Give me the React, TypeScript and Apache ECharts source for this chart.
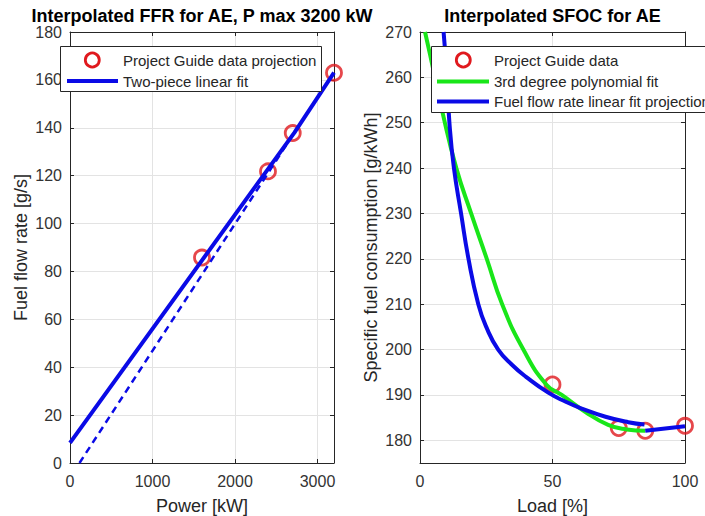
import React, { useEffect, useRef } from 'react';
import * as echarts from 'echarts';

// ---------- data ----------
const ffrTitle = 'Interpolated FFR for AE, P max 3200 kW';
const sfocTitle = 'Interpolated SFOC for AE';

const powerTicks = [0, 1000, 2000, 3000];
const loadTicks = [0, 50, 100];
const ffrTicks = [0, 20, 40, 60, 80, 100, 120, 140, 160, 180];
const sfocTicks = [180, 190, 200, 210, 220, 230, 240, 250, 260, 270];

// left: Project Guide data projection
const guidePowerKW = [1600, 2400, 2700, 3200];
const guideFfr = [85.8, 121.8, 137.8, 163];
// left: two-piece linear fit (solid)
const fitPowerKW = [0, 2720, 3200];
const fitFfr = [8.4, 138, 163];
// left: extension of second piece (dashed)
const extPowerKW = [115, 2720];
const extFfr = [0, 138];

// right: Project Guide data
const guideLoad = [50, 75, 85, 100];
const guideSfoc = [192.3, 182.7, 182.1, 183.2];
// right: 3rd degree polynomial fit
const polyLoad = [1.9, 3.8, 8.6, 13.7, 19.3, 25.2, 31, 39, 47.8, 53.5, 62.3, 71, 78, 85];
const polySfoc = [270, 265, 252, 240, 230, 220, 210, 200, 192.2, 190, 186.3, 183.4, 182.4, 182.1];
// right: fuel flow rate linear fit projection (piece 1 and piece 2)
const projLoadA = [8.9, 10.2, 11.1, 12.8, 15.5, 18.3, 22, 25, 29.5, 35, 40, 48.4, 55, 61, 70, 78.6, 84.7];
const projSfocA = [270, 260, 250, 240, 230, 220, 210, 205, 200, 196.5, 194, 190.5, 188.5, 187, 185.2, 184, 183.5];
const projLoadB = [85, 100];
const projSfocB = [182.1, 183.1];

// ---------- style ----------
const FONT = "'Liberation Sans', Arial, Helvetica, sans-serif";
const AX = '#262626';
const LABEL = '#333333';
const GRIDC = '#e3e3e3';
const RED = '#e0191e';
const BLUE = '#0a0ae6';
const GREEN = '#19e619';

const zip = (a: number[], b: number[]) => a.map((v, i) => [v, b[i]]);
const plain = (v: number) => String(v);

function mainX(gridIndex: number, min: number, max: number, name: string, ticks: number[]) {
  return {
    type: 'value', gridIndex, min, max, position: 'bottom',
    name, nameLocation: 'middle', nameGap: 34,
    nameTextStyle: { fontSize: 18, color: AX, fontFamily: FONT },
    axisLine: { show: true, onZero: false, lineStyle: { color: AX, width: 1 } },
    axisTick: { show: true, inside: true, length: 4, customValues: ticks, lineStyle: { color: AX } },
    axisLabel: { show: true, customValues: ticks, formatter: plain, fontSize: 16, color: LABEL, margin: 10, fontFamily: FONT },
    splitLine: { show: true, lineStyle: { color: GRIDC, width: 1 } },
  };
}
function mirrorX(gridIndex: number, min: number, max: number, ticks: number[]) {
  return {
    type: 'value', gridIndex, min, max, position: 'top',
    axisLine: { show: true, onZero: false, lineStyle: { color: AX, width: 1 } },
    axisTick: { show: true, inside: true, length: 4, customValues: ticks, lineStyle: { color: AX } },
    axisLabel: { show: false, customValues: ticks },
    splitLine: { show: false },
  };
}
function mainY(gridIndex: number, min: number, max: number, name: string, ticks: number[]) {
  return {
    type: 'value', gridIndex, min, max, position: 'left',
    name, nameLocation: 'middle', nameGap: 40,
    nameTextStyle: { fontSize: 18, color: AX, fontFamily: FONT },
    axisLine: { show: true, onZero: false, lineStyle: { color: AX, width: 1 } },
    axisTick: { show: true, inside: true, length: 4, customValues: ticks, lineStyle: { color: AX } },
    axisLabel: { show: true, customValues: ticks, formatter: plain, fontSize: 16, color: LABEL, margin: 8, fontFamily: FONT },
    splitLine: { show: true, lineStyle: { color: GRIDC, width: 1 } },
  };
}
function mirrorY(gridIndex: number, min: number, max: number, ticks: number[]) {
  return {
    type: 'value', gridIndex, min, max, position: 'right',
    axisLine: { show: true, onZero: false, lineStyle: { color: AX, width: 1 } },
    axisTick: { show: true, inside: true, length: 4, customValues: ticks, lineStyle: { color: AX } },
    axisLabel: { show: false, customValues: ticks },
    splitLine: { show: false },
  };
}

function txt(x: number, y: number, text: string, size: number, opts: any = {}) {
  return {
    type: 'text', x, y, z: 20,
    style: {
      text, fontSize: size, fontFamily: FONT, fill: opts.fill || AX,
      fontWeight: opts.bold ? 'bold' : 'normal',
      align: opts.align || 'left', verticalAlign: 'middle',
      textAlign: opts.align || 'left', textVerticalAlign: 'middle',
    },
  };
}

export default function App() {
  const ref = useRef<HTMLDivElement>(null);
  useEffect(() => {
    if (!ref.current) return;
    const chart = echarts.init(ref.current, undefined, { renderer: 'svg' });
    const option: any = {
      animation: false,
      backgroundColor: '#ffffff',
      grid: [
        { left: 70, top: 32, right: 371, bottom: 53, containLabel: false, outerBoundsMode: 'none' },
        { left: 420, top: 32, right: 20, bottom: 53, containLabel: false, outerBoundsMode: 'none' },
      ],
      xAxis: [
        mainX(0, 0, 3200, 'Power [kW]', powerTicks),
        mirrorX(0, 0, 3200, powerTicks),
        mainX(1, 0, 100, 'Load [%]', loadTicks),
        mirrorX(1, 0, 100, loadTicks),
      ],
      yAxis: [
        mainY(0, 0, 180, 'Fuel flow rate [g/s]', ffrTicks),
        mirrorY(0, 0, 180, ffrTicks),
        mainY(1, 175, 270, 'Specific fuel consumption [g/kWh]', sfocTicks),
        mirrorY(1, 175, 270, sfocTicks),
      ],
      series: [
        {
          type: 'scatter', name: 'Project Guide data projection', xAxisIndex: 0, yAxisIndex: 0,
          data: zip(guidePowerKW, guideFfr), symbol: 'circle', symbolSize: 15, clip: false,
          itemStyle: { color: 'rgba(0,0,0,0)', borderColor: RED, borderWidth: 2.8 }, z: 2,
        },
        {
          type: 'line', name: 'Two-piece linear fit', xAxisIndex: 0, yAxisIndex: 0,
          data: zip(fitPowerKW, fitFfr), showSymbol: false, symbol: 'none',
          lineStyle: { color: BLUE, width: 4 }, z: 3,
        },
        {
          type: 'line', name: 'extension', xAxisIndex: 0, yAxisIndex: 0,
          data: zip(extPowerKW, extFfr), showSymbol: false, symbol: 'none',
          lineStyle: { color: BLUE, width: 2.5, type: [7, 5] }, z: 3,
        },
        {
          type: 'scatter', name: 'Project Guide data', xAxisIndex: 2, yAxisIndex: 2,
          data: zip(guideLoad, guideSfoc), symbol: 'circle', symbolSize: 15, clip: false,
          itemStyle: { color: 'rgba(0,0,0,0)', borderColor: RED, borderWidth: 2.8 }, z: 2,
        },
        {
          type: 'line', name: '3rd degree polynomial fit', xAxisIndex: 2, yAxisIndex: 2,
          data: zip(polyLoad, polySfoc), showSymbol: false, symbol: 'none',
          smooth: 0.5,
          lineStyle: { color: GREEN, width: 4 }, z: 3,
        },
        {
          type: 'line', name: 'Fuel flow rate linear fit projection', xAxisIndex: 2, yAxisIndex: 2,
          data: zip(projLoadA, projSfocA), showSymbol: false, symbol: 'none',
          smooth: 0.5,
          lineStyle: { color: BLUE, width: 4 }, z: 4,
        },
        {
          type: 'line', name: 'Fuel flow rate linear fit projection (2)', xAxisIndex: 2, yAxisIndex: 2,
          data: zip(projLoadB, projSfocB), showSymbol: false, symbol: 'none',
          lineStyle: { color: BLUE, width: 4 }, z: 4,
        },
      ],
      graphic: [
        txt(202, 16, ffrTitle, 18, { bold: true, align: 'center', fill: '#000' }),
        txt(552.5, 16, sfocTitle, 18, { bold: true, align: 'center', fill: '#000' }),
        // left legend
        { type: 'rect', z: 19, shape: { x: 60.5, y: 46.5, width: 261, height: 45 }, style: { fill: '#fff', stroke: AX, lineWidth: 1 } },
        { type: 'circle', z: 20, shape: { cx: 92.3, cy: 60, r: 7 }, style: { fill: 'none', stroke: RED, lineWidth: 2.8 } },
        txt(123, 60.5, 'Project Guide data projection', 15),
        { type: 'line', z: 20, shape: { x1: 67, y1: 81, x2: 118, y2: 81 }, style: { stroke: BLUE, lineWidth: 4 } },
        txt(123, 81, 'Two-piece linear fit', 15),
        // right legend
        { type: 'rect', z: 19, shape: { x: 431.5, y: 46.5, width: 300, height: 66 }, style: { fill: '#fff', stroke: AX, lineWidth: 1 } },
        { type: 'circle', z: 20, shape: { cx: 463.3, cy: 60, r: 7 }, style: { fill: 'none', stroke: RED, lineWidth: 2.8 } },
        txt(494, 60.5, 'Project Guide data', 15),
        { type: 'line', z: 20, shape: { x1: 437, y1: 81.5, x2: 489, y2: 81.5 }, style: { stroke: GREEN, lineWidth: 4 } },
        txt(494, 81.5, '3rd degree polynomial fit', 15),
        { type: 'line', z: 20, shape: { x1: 437, y1: 101.5, x2: 489, y2: 101.5 }, style: { stroke: BLUE, lineWidth: 4 } },
        txt(494, 101.5, 'Fuel flow rate linear fit projection', 15),
      ],
    };
    chart.setOption(option);
    return () => chart.dispose();
  }, []);
  return (
    <div
      ref={ref}
      style={{ position: 'fixed', left: 0, top: 0, width: 705, height: 516, background: '#fff' }}
    />
  );
}
